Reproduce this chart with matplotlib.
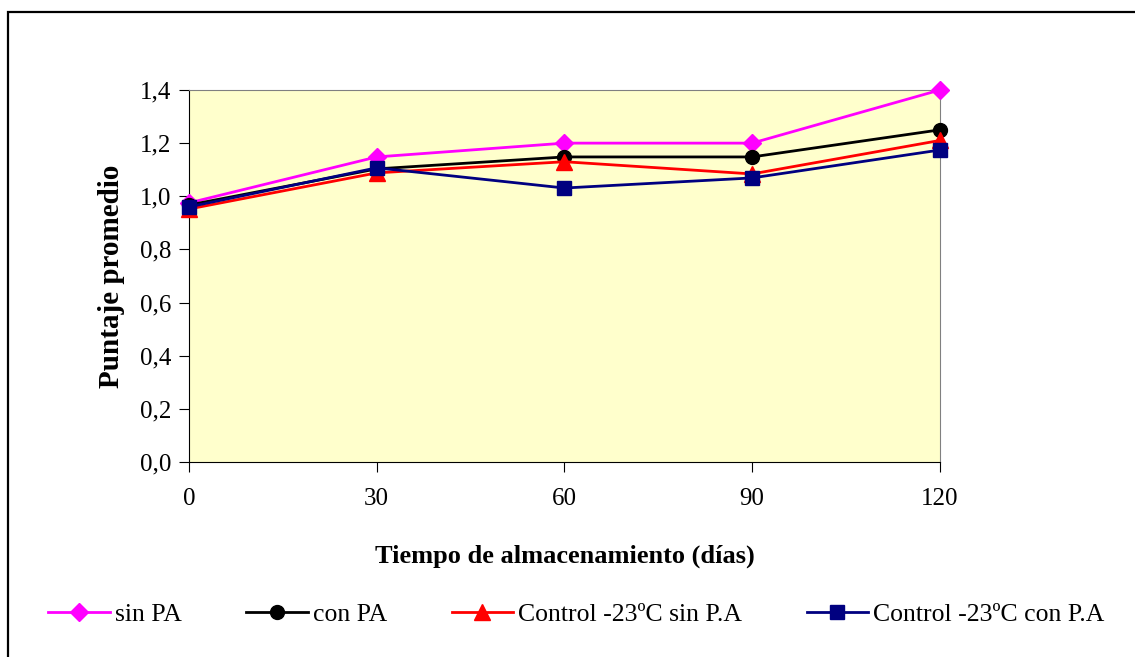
import numpy as np
import matplotlib.pyplot as plt
from matplotlib.patches import Rectangle

plt.rcParams['font.family'] = ['Liberation Serif', 'DejaVu Serif']

dias = [0, 30, 60, 90, 120]
sin_pa = [0.975, 1.148, 1.20, 1.20, 1.40]
con_pa = [0.967, 1.103, 1.148, 1.148, 1.25]
control_sin = [0.952, 1.088, 1.13, 1.084, 1.21]
control_con = [0.96, 1.107, 1.031, 1.069, 1.174]

fig = plt.figure(figsize=(11.35, 6.57), dpi=100)
ax = fig.add_axes([0.1665, 0.297, 0.6615, 0.566])
ax.set_facecolor("#FFFFCC")

ax.plot(dias, sin_pa, color="#FF00FF", marker="D", markersize=9.5, lw=2, label="sin PA", clip_on=False, zorder=3)
ax.plot(dias, con_pa, color="black", marker="o", markersize=10, lw=2, label="con PA", clip_on=False, zorder=3)
ax.plot(dias, control_sin, color="#FF0000", marker="^", markersize=11.5, lw=2, label="Control -23ºC sin P.A", clip_on=False, zorder=3)
ax.plot(dias, control_con, color="#000080", marker="s", markersize=9.5, lw=2, label="Control -23ºC con P.A", clip_on=False, zorder=3)

ax.set_xlim(0, 120)
ax.set_ylim(0, 1.4)
ax.set_xticks(dias)
yt = np.arange(0, 1.41, 0.2)
ax.set_yticks(yt)
ax.set_yticklabels([("%.1f" % v).replace(".", ",") for v in yt])
ax.tick_params(labelsize=18, direction="out", length=7, color="black")
ax.tick_params(axis="x", pad=12)
ax.tick_params(axis="y", pad=6)
for s in ax.spines.values():
    s.set_color("#808080")
ax.spines["left"].set_color("black")
ax.spines["bottom"].set_color("black")

ax.set_xlabel("Tiempo de almacenamiento (días)", fontsize=19, fontweight="bold")
ax.xaxis.set_label_coords(0.5, -0.223)
ax.set_ylabel("Puntaje promedio", fontsize=21, fontweight="bold")
ax.yaxis.set_label_coords(-0.085, 0.5)

fig.legend(loc="center", bbox_to_anchor=(0.508, 0.064), ncol=4, frameon=False,
           fontsize=18.5, columnspacing=2.5, handlelength=2.4, handletextpad=0.2)

# marco de la figura (solo se ven borde izquierdo y superior)
fig.patches.append(Rectangle((0.007, -0.05), 1.05, 1.032, transform=fig.transFigure,
                             fill=False, edgecolor="black", lw=1.6))

fig.savefig("out.png", dpi=100)
